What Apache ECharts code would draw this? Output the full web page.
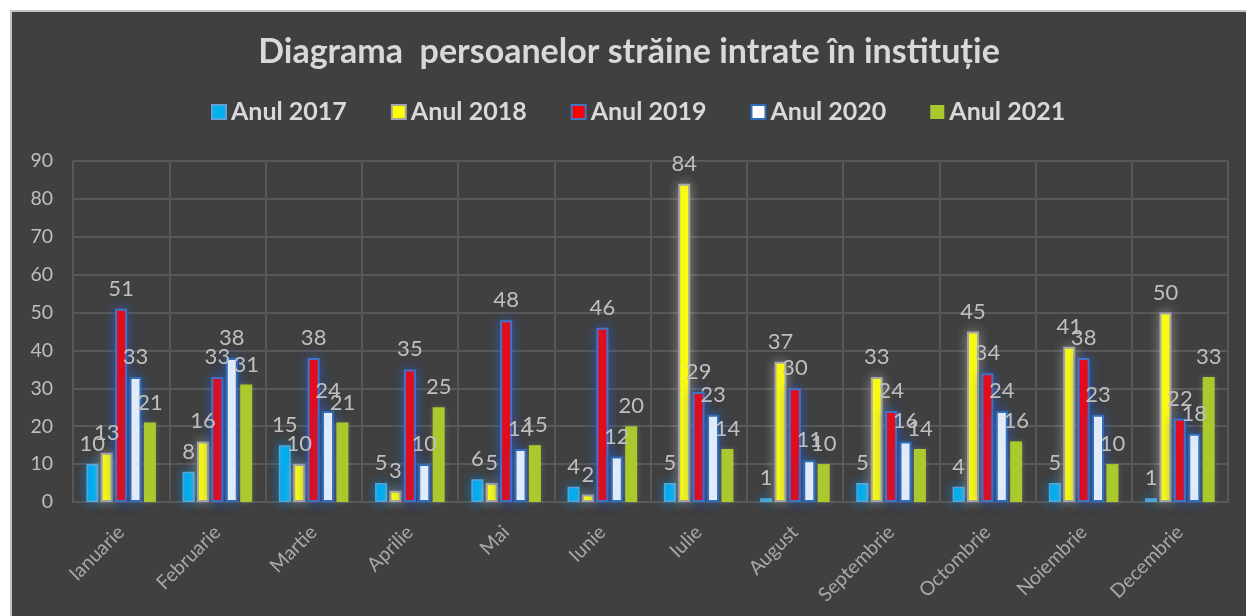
<!DOCTYPE html>
<html>
<head>
<meta charset="utf-8">
<script src="https://cdn.jsdelivr.net/npm/echarts@6/dist/echarts.min.js"></script>
<style>
  html, body { margin: 0; padding: 0; background: #ffffff; width: 1246px; height: 616px; overflow: hidden; }
  #frame { position: absolute; left: 10px; top: 10px; width: 1234px; height: 604px;
           border-left: 2px solid #c4c4c4; border-top: 2px solid #c4c4c4; background: #404040; }
  #chart { width: 1234px; height: 604px; }
</style>
</head>
<body>
<div id="frame"><div id="chart"></div></div>
<script>
const titleText = 'Diagrama  persoanelor străine intrate în instituție';
const categories = ['Ianuarie', 'Februarie', 'Martie', 'Aprilie', 'Mai', 'Iunie', 'Iulie', 'August', 'Septembrie', 'Octombrie', 'Noiembrie', 'Decembrie'];
const seriesNames = ['Anul 2017', 'Anul 2018', 'Anul 2019', 'Anul 2020', 'Anul 2021'];
const values2017 = [10, 8, 15, 5, 6, 4, 5, 1, 5, 4, 5, 1];
const values2018 = [13, 16, 10, 3, 5, 2, 84, 37, 33, 45, 41, 50];
const values2019 = [51, 33, 38, 35, 48, 46, 29, 30, 24, 34, 38, 22];
const values2020 = [33, 38, 24, 10, 14, 12, 23, 11, 16, 24, 23, 18];
const values2021 = [21, 31, 21, 25, 15, 20, 14, 10, 14, 16, 10, 33];
const yTicks = { min: 0, max: 90, interval: 10 };

const allValues = [values2017, values2018, values2019, values2020, values2021];
const styles = [
  { color: '#00b0f0', borderColor: '#5ba3d9', borderWidth: 1.5, shadowColor: 'rgba(0,150,240,0.6)', shadowBlur: 12 },
  { color: '#ffff00', borderColor: '#a6a6a6', borderWidth: 2, shadowColor: 'rgba(200,200,200,0.5)', shadowBlur: 12 },
  { color: '#ff0000', borderColor: '#4472c4', borderWidth: 2, shadowColor: 'rgba(40,100,220,0.65)', shadowBlur: 12 },
  { color: '#ffffff', borderColor: '#2e6fb8', borderWidth: 2, shadowColor: 'rgba(40,100,220,0.65)', shadowBlur: 12 },
  { color: '#a9c92c', borderColor: '#a9c92c', borderWidth: 0, shadowColor: 'rgba(200,200,200,0.25)', shadowBlur: 6 }
];

const font = 'Lato, "Open Sans", sans-serif';

const series = seriesNames.map((name, i) => ({
  name: name,
  type: 'bar',
  data: allValues[i],
  barWidth: 12,
  barGap: '20%',
  itemStyle: styles[i],
  label: {
    show: true,
    position: 'top',
    distance: 9,
    color: '#bfbfbf',
    fontSize: 22,
    fontFamily: font
  },
  emphasis: { disabled: true }
}));

const chart = echarts.init(document.getElementById('chart'), null, { renderer: 'canvas' });
chart.setOption({
  backgroundColor: '#404040',
  animation: false,
  title: {
    text: titleText,
    left: 'center',
    top: 22,
    padding: 0,
    textStyle: { color: '#d9d9d9', fontSize: 34, fontWeight: 'bold', fontFamily: font, lineHeight: 36 }
  },
  legend: {
    data: seriesNames,
    left: 199,
    top: 85,
    padding: 0,
    itemWidth: 14,
    itemHeight: 14,
    itemGap: 44,
    icon: 'rect',
    textStyle: { color: '#d9d9d9', fontSize: 25, fontWeight: 'bold', fontFamily: font, lineHeight: 30 }
  },
  grid: { left: 61, right: 18, top: 149, bottom: 114, containLabel: false },
  xAxis: {
    type: 'category',
    data: categories,
    axisTick: { show: false },
    axisLine: { show: true, lineStyle: { color: '#595959', width: 2 } },
    splitLine: { show: true, lineStyle: { color: '#595959', width: 2 } },
    axisLabel: { interval: 0, rotate: 45, margin: 27, color: '#a8a8a8', fontSize: 19.5, fontFamily: font }
  },
  yAxis: {
    type: 'value',
    min: yTicks.min,
    max: yTicks.max,
    interval: yTicks.interval,
    axisLine: { show: false },
    axisTick: { show: false },
    splitLine: { show: true, lineStyle: { color: '#595959', width: 2 } },
    axisLabel: { margin: 20, color: '#bfbfbf', fontSize: 19.5, fontFamily: font }
  },
  series: series
});
</script>
</body>
</html>
